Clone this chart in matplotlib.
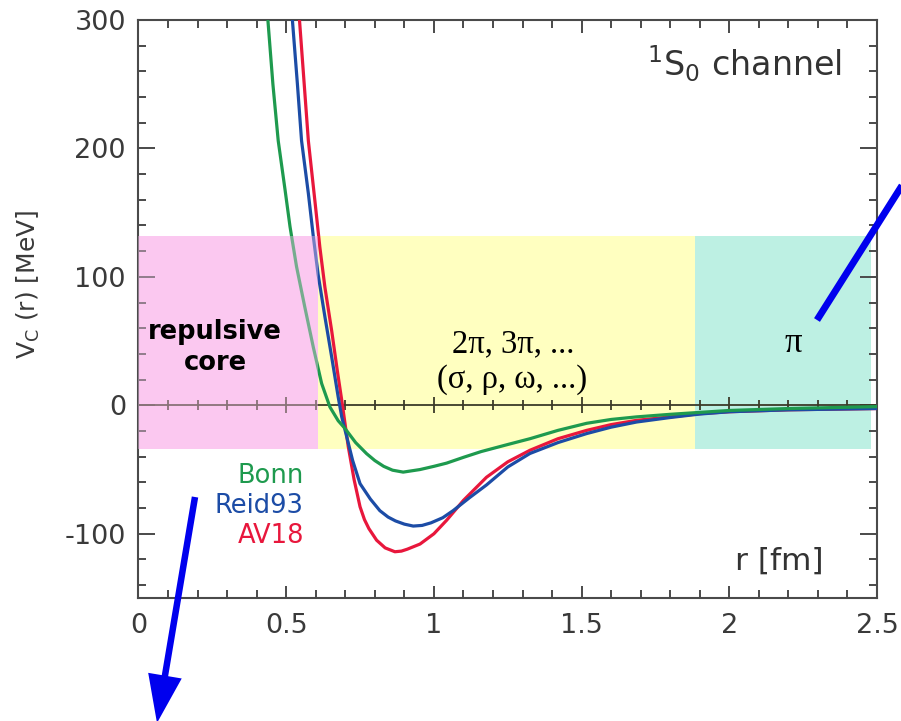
import matplotlib
matplotlib.use("Agg")
import matplotlib.pyplot as plt
from matplotlib.patches import FancyArrow
from matplotlib.lines import Line2D
import numpy as np

plt.rcParams['axes.unicode_minus'] = False
plt.rcParams['mathtext.fontset'] = 'dejavusans'

# potential curves (r in fm, V in MeV)
r_bonn = [0.438, 0.455, 0.473, 0.496, 0.513, 0.535, 0.563, 0.592, 0.620, 0.648,
          0.676, 0.699, 0.735, 0.772, 0.800, 0.830, 0.860, 0.896, 0.953, 1.000,
          1.043, 1.100, 1.160, 1.250, 1.325, 1.420, 1.517, 1.600, 1.686, 1.800,
          1.900, 2.000, 2.200, 2.500]
v_bonn = [300, 250, 206, 168, 139, 108, 76.5, 45, 17, -1.3,
          -12, -18, -29, -37.6, -43, -47.5, -50.5, -52, -50, -47.5,
          -45, -40.5, -36, -30.5, -26, -19.5, -14, -11, -9, -7,
          -5.5, -4, -2.5, -1]

r_reid = [0.521, 0.538, 0.552, 0.575, 0.592, 0.608, 0.631, 0.654, 0.676, 0.688,
          0.705, 0.725, 0.750, 0.785, 0.817, 0.845, 0.870, 0.900, 0.930, 0.960,
          0.990, 1.030, 1.065, 1.120, 1.178, 1.250, 1.325, 1.420, 1.517, 1.600,
          1.686, 1.800, 1.900, 2.000, 2.200, 2.500]
v_reid = [300, 250, 206, 165, 131, 102, 69, 37.6, 6.5, -9,
          -24.6, -43, -61, -73, -82, -87, -90, -92.5, -94, -93.5,
          -91.5, -87.5, -82, -72, -62, -48, -37.5, -29, -22, -17,
          -13, -9.5, -6.8, -5, -3.5, -2.5]

r_av18 = [0.545, 0.561, 0.575, 0.597, 0.614, 0.631, 0.654, 0.673, 0.688, 0.699,
          0.710, 0.730, 0.750, 0.765, 0.780, 0.806, 0.835, 0.868, 0.890, 0.910,
          0.953, 1.000, 1.043, 1.100, 1.178, 1.250, 1.325, 1.420, 1.517, 1.600,
          1.686, 1.800, 1.900, 2.000, 2.200, 2.500]
v_av18 = [300, 250, 206, 159.5, 123, 92, 58, 27, 4, -14,
          -32, -58, -79, -89, -96, -105, -111, -114, -113.5, -112,
          -108, -100, -89.5, -74, -56, -44, -35, -26, -19.5, -15,
          -11.7, -9, -6.5, -5, -3.5, -2.5]

# shaded regions: (r start, r end, colour)
band_edges = [0.0, 0.607, 1.883, 2.48]
band_colors = ['#fbc8f0', '#ffffc0', '#bdf0e3']
band_v = (-34, 132)

x_ticks = [0, 0.5, 1, 1.5, 2, 2.5]
x_labels = ['0', '0.5', '1', '1.5', '2', '2.5']
y_ticks = [-100, 0, 100, 200, 300]

green, blue, red = '#1e9a4e', '#1c4ca6', '#e8173c'
axcol = '#4a4a4a'

fig = plt.figure(figsize=(9.01, 7.21), dpi=100)
ax = fig.add_axes([0.1537, 0.1706, 0.8197, 0.8017])

for i, c in enumerate(band_colors):
    ax.fill_between([band_edges[i], band_edges[i + 1]], band_v[0], band_v[1],
                    color=c, lw=0, zorder=0)

ax.plot(r_av18, v_av18, color=red, lw=2.3, zorder=3)
ax.plot(r_reid, v_reid, color=blue, lw=2.3, zorder=3)
ax.plot(r_bonn, v_bonn, color=green, lw=2.3, zorder=3)

# pink wash over the curves inside the repulsive-core box
ax.fill_between([band_edges[0], band_edges[1]], band_v[0], band_v[1],
                color=band_colors[0], alpha=0.4, lw=0, zorder=4)

# zero line with its own ticks
ax.axhline(0, color='#3c3a28', lw=1.3, zorder=2)
zax = ax.secondary_xaxis(150 / 450)
zax.spines['bottom'].set_visible(False)
zax.set_xticks(x_ticks)
zax.set_xticks(np.arange(0, 2.51, 0.1), minor=True)
zax.tick_params(which='major', direction='inout', length=12, width=1.3,
                color='#3c3a28', labelbottom=False)
zax.tick_params(which='minor', direction='inout', length=7, width=1.3,
                color='#3c3a28')

ax.set_xlim(0, 2.5)
ax.set_ylim(-150, 300)
ax.set_xticks(x_ticks)
ax.set_xticklabels(x_labels)
ax.set_xticks(np.arange(0, 2.51, 0.1), minor=True)
ax.set_yticks(y_ticks)
ax.set_yticks(np.arange(-140, 301, 20), minor=True)
ax.tick_params(which='both', direction='in', top=True, right=True,
               color=axcol, width=1.4, labelsize=19.5, labelcolor='#3a3a3a')
ax.tick_params(axis='x', which='major', length=9, pad=11)
ax.tick_params(axis='y', which='major', length=12, pad=9)
ax.tick_params(which='minor', length=5.5)
for s in ax.spines.values():
    s.set_color(axcol)
    s.set_linewidth(1.5)

fig.text(0.031, 0.605, r'V$_{\rm C}$ (r) [MeV]', rotation=90, ha='center',
         va='center', fontsize=18, color='#3a3a3a')

ax.text(2.38, 256, r'$^1$S$_0$ channel', ha='right', va='baseline',
        fontsize=24, color='#333333')
ax.text(2.32, -128, 'r [fm]', ha='right', va='baseline', fontsize=22.5,
        color='#333333')

ax.text(0.26, 57, 'repulsive', ha='center', va='center', fontsize=18.5,
        fontweight='bold', color='black', zorder=5)
ax.text(0.26, 33, 'core', ha='center', va='center', fontsize=18.5,
        fontweight='bold', color='black', zorder=5)
ax.text(1.27, 48, '2π, 3π, ...', ha='center', va='center', fontsize=23.5,
        family='Liberation Serif', color='black')
ax.text(1.265, 20, '(σ, ρ, ω, ...)', ha='center', va='center', fontsize=23.5,
        family='Liberation Serif', color='black')
ax.text(2.215, 48, 'π', ha='center', va='center', fontsize=25,
        family='Liberation Serif', color='black')

ax.text(0.56, -55, 'Bonn', ha='right', va='center', fontsize=18.5, color=green)
ax.text(0.56, -78, 'Reid93', ha='right', va='center', fontsize=18.5, color=blue)
ax.text(0.56, -102, 'AV18', ha='right', va='center', fontsize=18.5, color=red)

# blue annotation arrows, placed in figure inches
fig.add_artist(Line2D([8.17, 9.15], [4.01, 5.56], color='#0000ee', lw=5,
                      solid_capstyle='butt', transform=fig.dpi_scale_trans))
fig.add_artist(FancyArrow(1.95, 2.24, -0.38, -2.26, width=0.065,
                          head_width=0.34, head_length=0.48,
                          length_includes_head=True, color='#0000ee', lw=0,
                          transform=fig.dpi_scale_trans))

fig.savefig('out.png', dpi=100)
